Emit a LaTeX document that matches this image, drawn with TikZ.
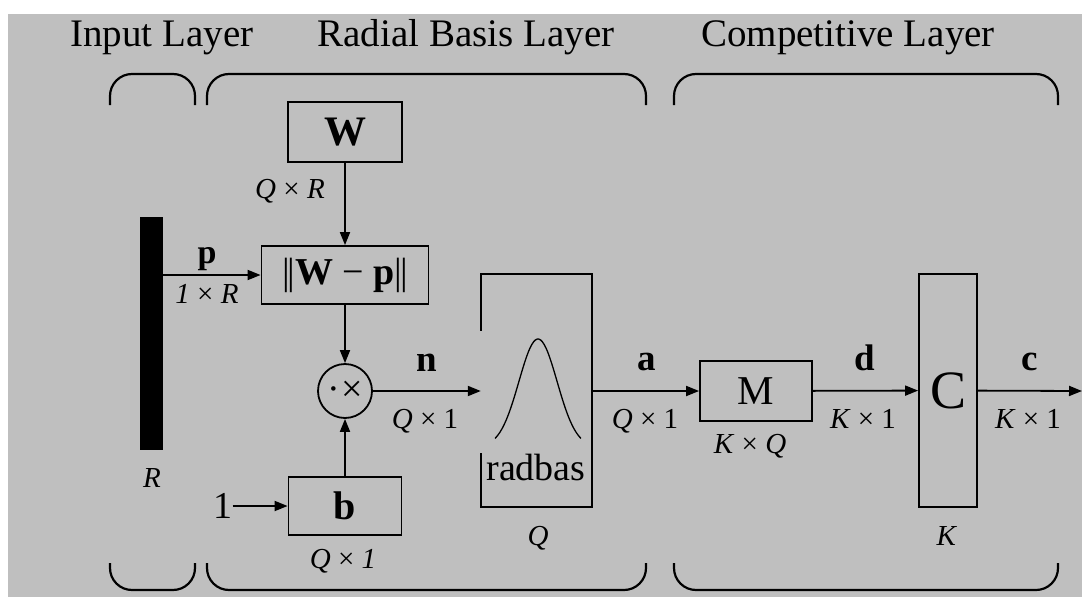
\documentclass[tikz,border=0pt]{standalone}
\usepackage{fontspec}
\setmainfont{Liberation Serif}
\usetikzlibrary{arrows.meta,positioning}
\definecolor{panelGray}{RGB}{191,191,191}
\newcommand{\fsz}[1]{\fontsize{#1}{#1}\selectfont}
\newcommand{\dimtxt}[2]{\textit{#1}\hspace{0.25em}×\hspace{0.25em}#2}
\tikzset{
  blk/.style={draw, line width=1.8pt, inner sep=0pt},
  wire/.style={line width=1.8pt, -{Triangle[length=13pt,width=10pt]}},
  bracket/.style={line width=2.2pt, rounded corners=22pt},
  layertitle/.style={font=\fsz{39}, inner sep=0pt, anchor=base},
  sig/.style={font=\fsz{37}\bfseries, inner sep=0pt, anchor=base},
  dimlab/.style={font=\fsz{29}, inner sep=0pt, anchor=base}
}

\begin{document}
\begin{tikzpicture}[x=1pt, y=-1pt]
    \useasboundingbox (0,0) rectangle (1082,597);
    \fill[panelGray] (8,14) rectangle (1082,597);

    \node[layertitle] (tin) at (162,46) {Input Layer};
    \node[layertitle] (trb) at (466,46) {Radial Basis Layer};
    \node[layertitle] (tcl) at (848,46) {Competitive Layer};
    \draw[bracket] (110,105) -- (110,74) -- (195,74) -- (195,105);
    \draw[bracket] (207,105) -- (207,74) -- (646,74) -- (646,105);
    \draw[bracket] (674,105) -- (674,74) -- (1058,74) -- (1058,105);
    \draw[bracket] (110,563) -- (110,590) -- (195,590) -- (195,563);
    \draw[bracket] (207,563) -- (207,590) -- (646,590) -- (646,563);
    \draw[bracket] (674,563) -- (674,590) -- (1058,590) -- (1058,563);

    \node[fill=black, inner sep=0pt, minimum width=23, minimum height=233] (bar) at (151.5,333.5) {};
    \node[dimlab] (rlab) at (152,487) {\textit{R}};

    \node[blk, minimum width=114, minimum height=60, font=\fsz{42}\bfseries] (wbox) at (345,132) {W};
    \node[dimlab] (wdim) at (290,198) {\dimtxt{Q}{\textit{R}}};
    \node[blk, minimum width=167, minimum height=58, font=\fsz{38}] (dist) at (345,275) {|\kern-2pt|\textbf{W} − \textbf{p}|\kern-2pt|};
    \node[circle, draw, line width=1.8pt, minimum size=54, inner sep=0pt, font=\fsz{38}] (prod) at (345,391) {·\kern1pt×};
    \node[blk, minimum width=113, minimum height=58, font=\fsz{40}\bfseries] (bbox) at (345,506) {b};
    \node[font=\fsz{38}, inner sep=0pt, anchor=base] (one) at (223,518) {1};
    \node[dimlab] (bdim) at (343,568) {\textit{Q}\hspace{0.25em}×\hspace{0.25em}\textit{1}};

    \node[minimum width=111, minimum height=233, inner sep=0pt] (rad) at (536.5,390.5) {};
    \draw[line width=1.8pt] ([yshift=60]rad.west) -- (rad.north west) -- (rad.north east)
        -- (rad.south east) -- (rad.south west) -- ([yshift=-62]rad.west);
    \draw[line width=1.3pt] plot[domain=-43:43, samples=50, smooth] ({538+\x},{447-108*exp(-(\x/27)^2)});
    \node[font=\fsz{38}, inner sep=0pt, anchor=base] (radname) at (536,480) {radbas};
    \node[dimlab] (radq) at (538,545) {\textit{Q}};

    \node[blk, minimum width=112, minimum height=60, font=\fsz{41}] (mbox) at (756,391) {M};
    \node[dimlab] (mdim) at (750,453) {\dimtxt{K}{\textit{Q}}};
    \node[blk, minimum width=58, minimum height=233, font=\fsz{54}] (cbox) at (948,390.5) {C};
    \node[dimlab] (ck) at (947,545) {\textit{K}};
    \coordinate (out) at (1082,391);

    \draw[wire] (wbox) -- (dist);
    \draw[wire] (bar.east |- dist.west) -- (dist.west);
    \draw[wire] (dist) -- (prod);
    \draw[wire] (bbox) -- (prod);
    \draw[wire] (one.east |- bbox.west) -- (bbox.west);
    \draw[wire] (prod) -- (prod -| rad.west);
    \draw[wire] (prod -| rad.east) -- (mbox);
    \draw[wire] (mbox) -- (cbox);
    \draw[wire] (cbox) -- (out);

    \node[sig, font=\fsz{34}\bfseries] (plab) at (207,263) {p};
    \node[dimlab] (pdim) at (207,303) {\textit{1}\hspace{0.25em}×\hspace{0.25em}\textit{R}};
    \node[sig] (nlab) at (427,371) {n};
    \node[dimlab] (ndim) at (425,428) {\dimtxt{Q}{1}};
    \node[sig] (alab) at (647,370) {a};
    \node[dimlab] (adim) at (645,428) {\dimtxt{Q}{1}};
    \node[sig] (dlab) at (865,370) {d};
    \node[dimlab] (ddim) at (863,428) {\dimtxt{K}{1}};
    \node[sig] (clab) at (1030,370) {c};
    \node[dimlab] (cdim) at (1028,428) {\dimtxt{K}{1}};
\end{tikzpicture}
\end{document}
